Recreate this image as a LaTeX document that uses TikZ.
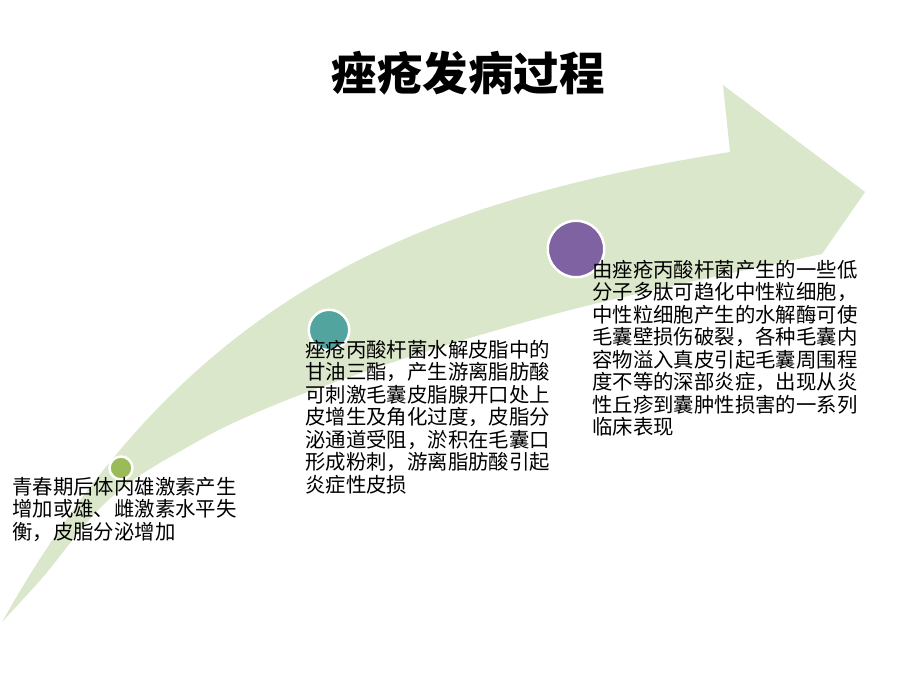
\documentclass[tikz,border=0pt]{standalone}
\usepackage{fontspec}
\newfontfamily\cjk{Noto Sans CJK SC}
\definecolor{arrowgreen}{HTML}{DBE7CA}
\definecolor{dotgreen}{HTML}{9BBB59}
\definecolor{dotteal}{HTML}{52A59E}
\definecolor{dotpurple}{HTML}{7E62A1}
\begin{document}
\begin{tikzpicture}[x=1pt,y=-1pt,
  arrowfill/.style={fill=arrowgreen},
  dot/.style={circle, draw=white, line width=2.5pt, inner sep=0pt},
  bodytext/.style={anchor=north west, inner sep=0pt, align=left, text=black,
    font=\cjk\fontsize{20.4pt}{22.5pt}\selectfont},
  titletext/.style={inner sep=0pt, text=black,
    font=\cjk\bfseries\fontsize{45.5pt}{50pt}\selectfont}]
\useasboundingbox[fill=white] (0,0) rectangle (920,690);
% swoosh arrow
\fill[arrowfill] (2,622) .. controls (182,303) and (400,205) .. (730,152)
  -- (723,85) -- (865,192) -- (822,254)
  -- plot[smooth, tension=0.55] coordinates {(822,254) (690,282) (570,310) (440,347) (313,390) (233,423) (177,453) (133,480) (100,508) (75,537) (43,577) (2,622)}
  -- cycle;
% title
\node[titletext] (title) at (468,73) {痤疮发病过程};
% circles
\node[dot, fill=dotgreen, minimum size=23pt] (c1) at (121,468) {};
\node[dot, fill=dotteal, minimum size=40.5pt] (c2) at (329,330) {};
\node[dot, fill=dotpurple, minimum size=56.5pt] (c3) at (576,249) {};
% texts
\node[bodytext] (t1) at (12,477) {青春期后体内雄激素产生\\增加或雄、雌激素水平失\\衡，皮脂分泌增加};
\node[bodytext] (t2) at (305,340) {痤疮丙酸杆菌水解皮脂中的\\甘油三酯，产生游离脂肪酸\\可刺激毛囊皮脂腺开口处上\\皮增生及角化过度，皮脂分\\泌通道受阻，淤积在毛囊口\\形成粉刺，游离脂肪酸引起\\炎症性皮损};
\node[bodytext] (t3) at (592,260) {由痤疮丙酸杆菌产生的一些低\\分子多肽可趋化中性粒细胞，\\中性粒细胞产生的水解酶可使\\毛囊壁损伤破裂，各种毛囊内\\容物溢入真皮引起毛囊周围程\\度不等的深部炎症，出现从炎\\性丘疹到囊肿性损害的一系列\\临床表现};
\end{tikzpicture}
\end{document}
